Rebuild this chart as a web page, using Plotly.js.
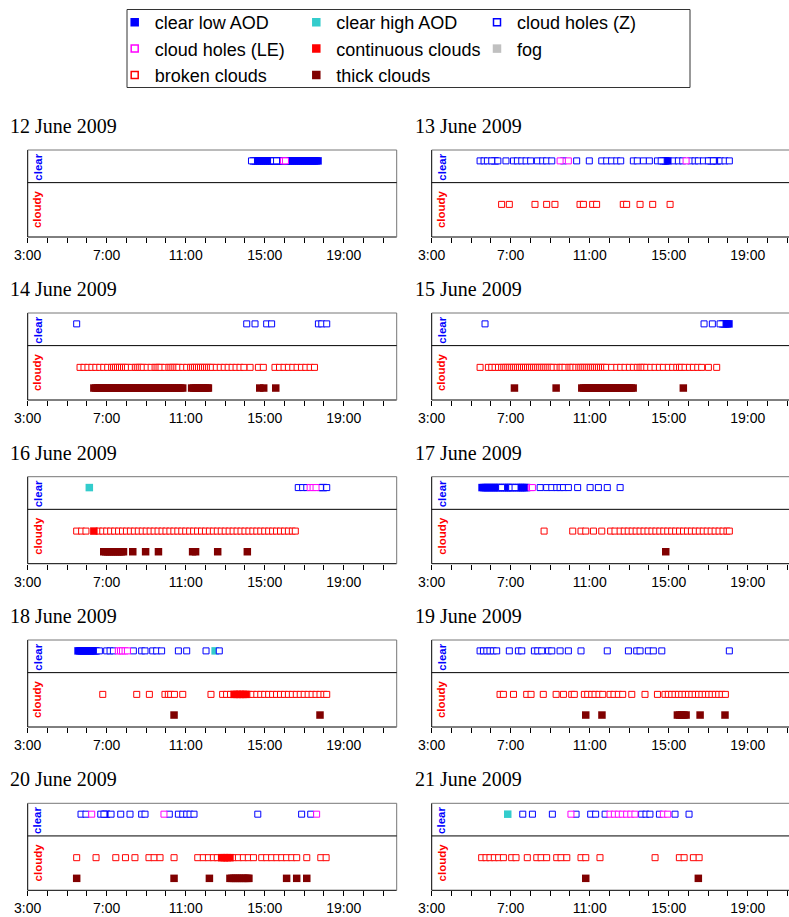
<!DOCTYPE html>
<html>
<head>
<meta charset="utf-8">
<script src="https://cdn.plot.ly/plotly-3.0.1.min.js"></script>
<style>
html,body{margin:0;padding:0;background:#fff;overflow:hidden}
#chart{width:789px;height:917px}
</style>
</head>
<body>
<div id="chart"></div>
<script>
// ---------------- data (times in decimal hours, local time) ----------------
const days = ['12 June 2009','13 June 2009','14 June 2009','15 June 2009','16 June 2009',
              '17 June 2009','18 June 2009','19 June 2009','20 June 2009','21 June 2009'];

const tickVals = [3,4,5,6,7,8,9,10,11,12,13,14,15,16,17,18,19,20,21];
const tickText = ['3:00','','','','7:00','','','','11:00','','','','15:00','','','','19:00','',''];

const clearLowAOD = [
  [14.45,14.55,14.65,14.75,14.85,14.95,15.05,15.15,15.25,15.35,15.5,15.7,15.8,15.9,16.1,16.2,16.3,16.4,16.5,16.6,16.7,16.8,16.9,17.0,17.1,17.2,17.3,17.4,17.5,17.6,17.7],
  [6.2,14.75,14.85,14.95,17.15,17.45],
  [],
  [17.75,17.85,17.95,18.05],
  [17.95],
  [5.55,5.65,5.75,5.85,5.95,6.05,6.15,6.25,6.35,6.45,6.6,6.7,6.8,6.9,7.0,7.1,7.3,7.4,7.5,7.6,7.7,7.8],
  [5.55,5.65,5.75,5.85,5.95,6.05,6.15,6.25,6.35,6.45],
  [],
  [6.97],
  []
];

const clearHighAOD = [
  [],[],[],[],[6.12],[],[12.49],[],[],[6.85]
];

const cloudHolesZ = [
  [14.33,15.45,15.6],
  [5.45,5.65,5.82,6.04,6.35,6.76,7.14,7.34,7.56,7.78,8.01,8.35,8.62,8.82,9.08,9.67,10.34,10.98,11.61,11.86,12.11,12.37,12.57,13.21,13.41,13.72,14.02,14.43,14.62,15.27,15.49,15.71,16.11,16.33,16.5,16.76,17.01,17.26,17.63,17.85,18.07],
  [5.48,14.09,14.51,15.1,15.35,17.72,17.89,18.14],
  [5.7,16.79,17.21,17.6],
  [16.7,16.92,17.13,17.82,18.14],
  [6.54,7.05,7.22,8.49,8.82,9.08,9.33,9.5,9.67,9.92,10.39,11.02,11.44,11.89,12.54],
  [6.63,7.0,7.17,7.34,8.35,8.77,8.94,9.33,9.53,9.78,10.63,11.05,12.03,12.7],
  [5.45,5.62,5.79,5.95,6.12,6.29,6.93,7.39,7.56,8.2,8.37,8.57,8.91,9.08,9.5,9.92,10.56,11.89,12.96,13.38,13.55,13.97,14.22,14.65,18.07],
  [5.7,5.95,6.7,6.86,7.22,7.71,8.18,8.77,8.94,10.17,10.63,10.85,11.05,11.22,11.42,14.65,16.87,17.33],
  [7.61,8.1,9.11,10.31,11.05,11.3,11.78,13.63,13.85,14.05,14.53,15.32,16.03]
];

const cloudHolesLE = [
  [15.95,16.05],
  [9.5,9.92,15.88],
  [],
  [],
  [17.3,17.45,17.6],
  [8.03,8.1],
  [7.59,7.7,7.8,7.93,8.05],
  [],
  [6.24,9.9,17.63],
  [10.05,12.03,12.25,12.45,12.65,12.87,13.08,13.29,14.73,14.95]
];

const brokenClouds = [
  [],
  [6.54,6.93,8.23,8.82,9.24,10.51,10.68,11.15,11.35,12.7,12.87,13.55,14.19,15.07],
  [5.65,5.85,6.05,6.25,6.45,6.65,6.85,7.05,7.25,7.35,7.45,7.55,7.65,7.75,7.85,7.95,8.05,8.25,8.45,8.55,8.65,8.75,8.85,9.05,9.25,9.45,9.55,9.65,9.75,9.95,10.15,10.25,10.35,10.45,10.55,10.65,10.85,11.05,11.25,11.35,11.45,11.55,11.65,11.75,11.85,11.95,12.05,12.15,12.25,12.35,12.55,12.75,12.95,13.15,13.35,13.55,13.75,13.95,14.26,14.68,14.93,15.52,15.75,15.98,16.2,16.42,16.64,16.86,17.08,17.3,17.52],
  [5.45,5.87,6.04,6.21,6.38,6.54,6.65,6.75,6.85,6.95,7.05,7.15,7.25,7.35,7.45,7.55,7.65,7.75,7.85,7.95,8.05,8.15,8.25,8.35,8.45,8.55,8.65,8.75,8.85,8.95,9.05,9.15,9.35,9.5,9.6,9.75,9.95,10.05,10.15,10.3,10.45,10.55,10.65,10.75,10.85,10.95,11.05,11.15,11.25,11.35,11.45,11.55,11.65,11.75,11.86,12.11,12.37,12.57,12.79,13.01,13.21,13.41,13.55,13.65,13.75,13.89,14.09,14.31,14.53,14.73,14.98,15.2,15.41,15.55,15.65,15.83,16.05,16.25,16.47,16.67,17.01,17.43],
  [5.48,5.73,5.95,6.6,6.8,7.0,7.2,7.4,7.6,7.8,8.0,8.2,8.4,8.6,8.8,9.0,9.2,9.4,9.6,9.8,10.0,10.2,10.4,10.6,10.8,11.0,11.2,11.4,11.6,11.8,12.0,12.2,12.4,12.6,12.8,13.0,13.2,13.4,13.6,13.8,14.0,14.2,14.4,14.6,14.8,15.0,15.2,15.4,15.6,15.8,16.0,16.2,16.4,16.55],
  [8.69,10.14,10.56,10.8,11.19,11.61,12.06,12.28,12.54,12.75,12.95,13.15,13.35,13.55,13.75,13.95,14.15,14.35,14.55,14.75,14.95,15.15,15.35,15.55,15.75,15.95,16.15,16.35,16.55,16.75,16.95,17.15,17.35,17.55,17.75,17.95,18.07],
  [6.8,8.52,9.16,9.95,10.12,10.24,10.43,10.85,12.28,12.87,13.07,13.27,14.2,14.4,14.6,14.8,15.0,15.2,15.4,15.6,15.8,16.0,16.2,16.4,16.6,16.8,17.0,17.2,17.4,17.6,17.8,18.0,18.14],
  [6.46,6.63,7.14,7.81,8.03,8.65,9.3,9.67,10.09,10.22,10.73,10.9,11.1,11.27,11.47,11.66,12.03,12.23,12.45,12.67,13.13,13.8,14.43,14.81,14.98,15.15,15.32,15.49,15.66,15.83,16.0,16.17,16.34,16.51,16.68,16.85,17.02,17.19,17.36,17.53,17.7,17.87],
  [5.48,6.46,7.46,7.95,8.43,9.14,9.4,9.7,10.41,11.61,11.89,12.15,12.4,12.6,13.41,13.67,13.92,14.17,14.43,14.85,15.1,15.35,15.61,15.86,16.11,16.37,16.62,17.13,17.84,18.11],
  [5.53,5.75,5.95,6.17,6.39,6.63,7.05,7.27,7.84,8.32,8.54,8.82,9.33,9.55,9.84,10.56,10.8,11.52,14.31,15.54,15.78,16.25,16.54]
];

const continuousClouds = [
  [],[],[],[],[6.35],[],[13.45,13.6,13.75,13.9,14.05],[],[12.82,12.95,13.1,13.24],[]
];

const thickClouds = [
  [],
  [],
  [6.35,6.45,6.55,6.65,6.75,6.85,6.95,7.05,7.15,7.25,7.35,7.45,7.55,7.65,7.75,7.85,7.95,8.05,8.15,8.25,8.35,8.45,8.55,8.65,8.75,8.85,8.95,9.05,9.15,9.25,9.35,9.45,9.55,9.65,9.75,9.85,9.95,10.05,10.15,10.25,10.35,10.45,10.55,10.65,10.75,10.85,11.3,11.4,11.5,11.6,11.7,11.8,11.9,12.0,12.1,12.15,14.75,14.95,15.56],
  [7.19,9.3,10.6,10.7,10.8,10.9,11.0,11.1,11.2,11.3,11.4,11.5,11.6,11.7,11.8,11.9,12.0,12.1,12.2,12.3,12.4,12.5,12.6,12.7,12.8,12.9,13.0,13.1,13.2,15.74],
  [6.85,6.95,7.05,7.15,7.25,7.35,7.45,7.55,7.65,7.75,7.85,8.32,8.97,9.62,11.35,11.5,12.62,14.12],
  [14.85],
  [10.41,17.8],
  [10.8,11.62,15.44,15.55,15.66,15.77,15.88,16.59,17.85],
  [5.48,10.41,12.2,13.24,13.34,13.44,13.54,13.64,13.74,13.84,13.94,14.04,14.14,14.2,16.11,16.62,17.13],
  [10.8,16.5]
];

// no fog observed on any day (legend entry only)
const fog = [[],[],[],[],[],[],[],[],[],[]];

// ---------------- styling / layout ----------------
const W = 789, H = 917;
const colLeft = [27.7, 431.7], colRight = [396.7, 789];
const rowTop = [150, 313, 476.7, 640, 803.3];
const plotH = 87, pxPerHour = 19.75;
const SANS = 'Liberation Sans, Arial, sans-serif';
const SERIF = 'Liberation Serif, Times New Roman, serif';

const types = [
  {name:'clear low AOD',     data:clearLowAOD,     level:3.5,  color:'#0000ff', open:false, legend:'legend',  rank:1},
  {name:'clear high AOD',    data:clearHighAOD,    level:3.5,  color:'#33cccc', open:false, legend:'legend2', rank:1},
  {name:'cloud holes (Z)',   data:cloudHolesZ,     level:3.5,  color:'#0000ff', open:true,  legend:'legend3', rank:1},
  {name:'cloud holes (LE)',  data:cloudHolesLE,    level:3.5,  color:'#ff00ff', open:true,  legend:'legend',  rank:2},
  {name:'broken clouds',     data:brokenClouds,    level:1.5,  color:'#ff0000', open:true,  legend:'legend',  rank:3},
  {name:'continuous clouds', data:continuousClouds,level:1.5,  color:'#ff0000', open:false, legend:'legend2', rank:2},
  {name:'thick clouds',      data:thickClouds,     level:0.55, color:'#800000', open:false, legend:'legend2', rank:3},
  {name:'fog',               data:fog,             level:1.5,  color:'#c0c0c0', open:false, legend:'legend3', rank:2}
];

const layout = {
  width:W, height:H,
  margin:{l:0,r:0,t:0,b:0,autoexpand:false},
  paper_bgcolor:'#ffffff', plot_bgcolor:'#ffffff',
  showlegend:true,
  font:{family:SANS, color:'#000'},
  shapes:[], annotations:[]
};

const legendBase = {
  xref:'paper', yref:'paper', xanchor:'left', yanchor:'top',
  orientation:'v', bgcolor:'rgba(0,0,0,0)', borderwidth:0, tracegroupgap:0,
  font:{family:SANS, size:18, color:'#000'}
};
const legTop = 4;
layout.legend  = Object.assign({}, legendBase, {x:114.7/W, y:1-legTop/H});
layout.legend2 = Object.assign({}, legendBase, {x:296.3/W, y:1-legTop/H});
layout.legend3 = Object.assign({}, legendBase, {x:477/W,   y:1-legTop/H});

// legend frame
layout.shapes.push({type:'rect', xref:'paper', yref:'paper',
  x0:127/W, x1:690/W, y0:1-87.5/H, y1:1-9.5/H, line:{color:'#333', width:1}, fillcolor:'rgba(0,0,0,0)'});

days.forEach((day, i) => {
  const s = i === 0 ? '' : String(i+1);
  const col = i % 2, row = Math.floor(i/2);
  const x0 = colLeft[col], x1 = colRight[col];
  const top = rowTop[row];
  layout['xaxis'+s] = {
    domain:[x0/W, x1/W], range:[3, 3 + (x1-x0)/pxPerHour], anchor:'y'+s,
    tickmode:'array', tickvals:tickVals, ticktext:tickText, tickangle:0,
    ticks:'outside', ticklen:5, tickwidth:1, tickcolor:'#000',
    tickfont:{family:SANS, size:14, color:'#000'},
    showgrid:false, zeroline:false, showline:false, fixedrange:true
  };
  layout['yaxis'+s] = {
    domain:[1-(top+plotH)/H, 1-top/H], range:[0,4], anchor:'x'+s,
    showticklabels:false, ticks:'', showgrid:false, zeroline:false, showline:false, fixedrange:true
  };
  const xd = 'x'+s+' domain', yd = 'y'+s+' domain';
  layout.shapes.push({type:'line', xref:xd, yref:yd, x0:0, x1:0, y0:0, y1:1, line:{color:'#000', width:1}});
  layout.shapes.push({type:'line', xref:xd, yref:yd, x0:0, x1:1, y0:0, y1:0, line:{color:'#000', width:1}});
  layout.shapes.push({type:'line', xref:xd, yref:yd, x0:0, x1:1, y0:1, y1:1, line:{color:'#777', width:1}});
  if (col === 0) layout.shapes.push({type:'line', xref:xd, yref:yd, x0:1, x1:1, y0:0, y1:1, line:{color:'#777', width:1}});
  layout.shapes.push({type:'line', xref:xd, yref:'y'+s, x0:0, x1:1, y0:2.5, y1:2.5, line:{color:'#000', width:1}});

  layout.annotations.push({xref:'paper', yref:'paper', x:(col===0?8:412.7)/W, y:1-(top-24)/H,
    xanchor:'left', yanchor:'middle', showarrow:false, text:day,
    font:{family:SERIF, size:20, color:'#000'}});
  layout.annotations.push({xref:xd, yref:'y'+s, x:0, xshift:10, y:3.22, xanchor:'center', yanchor:'middle',
    textangle:-90, showarrow:false, text:'<b>clear</b>', font:{family:SANS, size:11.5, color:'#0000ff'}});
  layout.annotations.push({xref:xd, yref:'y'+s, x:0, xshift:10, y:1.27, xanchor:'center', yanchor:'middle',
    textangle:-90, showarrow:false, text:'<b>cloudy</b>', font:{family:SANS, size:11.5, color:'#ff0000'}});
});

const traces = [];
types.forEach(t => {
  const marker = t.open
    ? {symbol:'square', size:6, color:'#ffffff', line:{color:t.color, width:1}}
    : {symbol:'square', size:7.5, color:t.color, line:{width:0}};
  days.forEach((day, i) => {
    const s = i === 0 ? '' : String(i+1);
    const xs = t.data[i];
    traces.push({
      type:'scatter', mode:'markers', name:t.name,
      x: xs, y: xs.map(() => t.level),
      xaxis:'x'+s, yaxis:'y'+s,
      marker: marker, showlegend:false,
      hoverinfo:'skip', cliponaxis:false
    });
  });
});
// legend entries (slightly larger symbols, as in the reference key)
types.forEach(t => {
  const marker = t.open
    ? {symbol:'square', size:7, color:'#ffffff', line:{color:t.color, width:1.5}}
    : {symbol:'square', size:8.5, color:t.color, line:{width:0}};
  traces.push({
    type:'scatter', mode:'markers', name:t.name, x:[null], y:[null],
    xaxis:'x', yaxis:'y', marker:marker, showlegend:true,
    legend:t.legend, legendrank:t.rank, hoverinfo:'skip'
  });
});

Plotly.newPlot('chart', traces, layout, {staticPlot:true, displayModeBar:false});
</script>
</body>
</html>
